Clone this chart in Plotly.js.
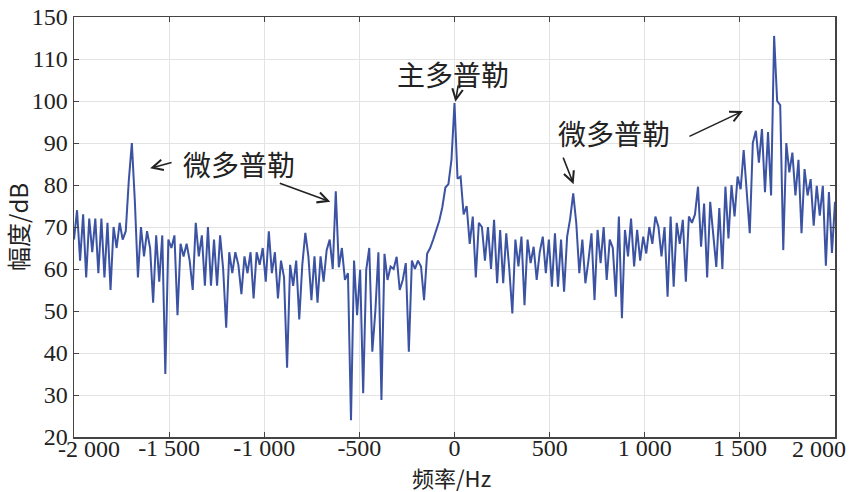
<!DOCTYPE html>
<html>
<head>
<meta charset="utf-8">
<script src="https://cdn.plot.ly/plotly-3.0.1.min.js"></script>
<style>html,body{margin:0;padding:0;background:#fff;}#chart{width:855px;height:492px;}</style>
</head>
<body>
<div id="chart"></div>
<script>
// Frequency bins: start and spacing (Hz)
const freqStart = -2000;
const freqStep = 16;

// Amplitude spectrum (dB), one value per bin
const amplitudeDb = [
  67, 74, 62, 73, 58, 72, 64, 72, 59, 72,
  58, 71, 55, 70, 65, 71, 67, 69, 81, 90,
  76, 58, 70, 63, 69, 65, 52, 68, 57, 68,
  35, 67, 65, 68, 49, 66, 63, 66, 62, 55,
  71, 63, 68, 56, 70, 56, 67, 56, 68, 60,
  46, 64, 59, 64, 61, 54, 63, 59, 64, 53,
  64, 61, 65, 57, 69, 59, 64, 53, 62, 58,
  36.5, 61, 56, 62, 48, 61, 68.6, 63, 52.6, 63,
  52, 63, 57, 64.5, 67, 60, 78.5, 60.4, 65, 57.4,
  59, 24, 62, 49, 59.8, 30.4, 59.8, 65, 40.3, 50,
  64, 28.8, 63.6, 57.4, 60.6, 60, 62.9, 55, 57.4, 61.4,
  40.3, 62, 60, 62, 60.6, 52.6, 63.6, 65, 67, 69,
  71.5, 74.7, 79.4, 80.2, 86, 99.5, 81.5, 82, 73, 75,
  66, 72.5, 58, 71, 70, 62, 70, 60, 71.7, 56.6,
  69.3, 56.6, 68.5, 60, 49.4, 67, 60.6, 67.7, 51.4, 67,
  61.4, 65.3, 57.4, 64, 67.7, 59, 67, 55.8, 68.5, 55.8,
  67, 54.6, 67.7, 72, 78, 71, 59, 67, 56.6, 62,
  68.5, 52.6, 69.3, 61.4, 70, 57.4, 67, 65, 53.4, 72.5,
  48.3, 69.3, 63, 72, 60.6, 69.3, 62, 67.7, 63.7, 70,
  66, 72.5, 70, 63, 70, 53.4, 72.5, 55.8, 71, 66,
  71.7, 57, 72.5, 71, 73, 79.6, 65.3, 75.6, 58, 76,
  68, 60.5, 74.5, 60, 79.6, 67.3, 80, 72.5, 82, 79,
  88.3, 78, 68.5, 90, 92.9, 85.3, 93.3, 78.3, 92.6, 77.5,
  115.5, 100, 99, 64.5, 90, 83, 87.7, 77.5, 86, 68.5,
  83.8, 77.5, 81.4, 70.3, 79.8, 72.7, 79.8, 60.8, 78.3, 63.8,
  76
];

// Axis ticks
const xTickVals = [-2000, -1500, -1000, -500, 0, 500, 1000, 1500, 2000];
const xTickText = ['-2 000', '-1 500', '-1 000', '-500', '0', '500', '1 000', '1 500', '2 000'];
const yTickVals = [20, 30, 40, 50, 60, 70, 80, 90, 100, 110, 120];
const yTickText = ['20', '30', '40', '50', '60', '70', '80', '90', '100', '110', '150'];

// Annotation texts
const labelMain = '主多普勒';
const labelMicro = '微多普勒';
const xTitle = '频率/Hz';
const yTitle = '幅度/dB';

const fontFam = '"Liberation Serif", "Times New Roman", "Noto Sans CJK SC", serif';
const cjkFam = '"Noto Sans CJK SC", "Liberation Serif", serif';

const trace = {
  type: 'scatter',
  mode: 'lines',
  x0: freqStart,
  dx: freqStep,
  y: amplitudeDb,
  line: {color: '#3b53a2', width: 2},
  hoverinfo: 'skip'
};

// middle tick labels shown by axis; the two end labels are placed as annotations
const axisTickText = xTickText.map((t, i) => (i === 0 || i === xTickText.length - 1) ? '' : t);

const arrowBase = {
  xref: 'x', yref: 'y', axref: 'pixel', ayref: 'pixel',
  showarrow: true, arrowhead: 5, arrowsize: 1.3, arrowwidth: 1.6,
  arrowcolor: '#222', text: ''
};
const txt = (x, y, t) => ({
  xref: 'x', yref: 'y', x: x, y: y, text: t, showarrow: false,
  xanchor: 'center', yanchor: 'middle',
  font: {family: cjkFam, size: 28, color: '#222'}
});

const endLabelFont = {family: fontFam, size: 24, color: '#222'};

const annotations = [
  txt(-1132, 85, labelMicro),
  txt(-10, 106.4, labelMain),
  txt(837, 92.4, labelMicro),
  Object.assign({}, arrowBase, {x: -1600, y: 84, ax: 23, ay: -6}),
  Object.assign({}, arrowBase, {x: -653, y: 76, ax: -52, ay: -19}),
  Object.assign({}, arrowBase, {x: 5, y: 99.8, ax: 3, ay: -18}),
  Object.assign({}, arrowBase, {x: 626, y: 80.2, ax: -11, ay: -28}),
  Object.assign({}, arrowBase, {x: 1516, y: 97.6, ax: -55, ay: 26}),
  {xref: 'x', yref: 'paper', x: xTickVals[0], y: 0, yshift: 3, xshift: -18, text: xTickText[0],
   showarrow: false, xanchor: 'left', yanchor: 'top', font: endLabelFont},
  {xref: 'x', yref: 'paper', x: xTickVals[xTickVals.length - 1], y: 0, yshift: 3, xshift: 13,
   text: xTickText[xTickText.length - 1], showarrow: false, xanchor: 'right', yanchor: 'top',
   font: endLabelFont},
  // x-axis title
  {xref: 'x', yref: 'paper', x: 0, y: 0, yshift: -40, xshift: -3, text: xTitle,
   showarrow: false, xanchor: 'center', yanchor: 'middle',
   font: {family: cjkFam, size: 22, color: '#222'}}
];

const layout = {
  width: 855, height: 492,
  margin: {l: 74, r: 20, t: 17, b: 55, pad: 0},
  paper_bgcolor: '#fff', plot_bgcolor: '#fff',
  showlegend: false,
  font: {family: fontFam, size: 24, color: '#222'},
  xaxis: {
    range: [-2000, 2000], tickmode: 'array', tickvals: xTickVals, ticktext: axisTickText,
    ticks: 'inside', ticklen: 5, tickcolor: '#444', tickwidth: 1,
    ticklabelstandoff: -11,
    showgrid: true, gridcolor: '#e3e3e3', gridwidth: 1,
    showline: true, linecolor: '#444', linewidth: 1.5, mirror: 'ticks',
    zeroline: false,
    tickfont: {family: fontFam, size: 24, color: '#222'}
  },
  yaxis: {
    range: [20, 120], tickmode: 'array', tickvals: yTickVals, ticktext: yTickText,
    ticks: 'inside', ticklen: 5, tickcolor: '#444', tickwidth: 1,
    showgrid: true, gridcolor: '#e3e3e3', gridwidth: 1,
    showline: true, linecolor: '#444', linewidth: 1.5, mirror: 'ticks',
    zeroline: false,
    tickfont: {family: fontFam, size: 24, color: '#222'},
    title: {text: yTitle, font: {family: cjkFam, size: 24, color: '#222'}, standoff: 6}
  },
  annotations: annotations
};

Plotly.newPlot('chart', [trace], layout, {displayModeBar: false, staticPlot: true});
</script>
</body>
</html>
